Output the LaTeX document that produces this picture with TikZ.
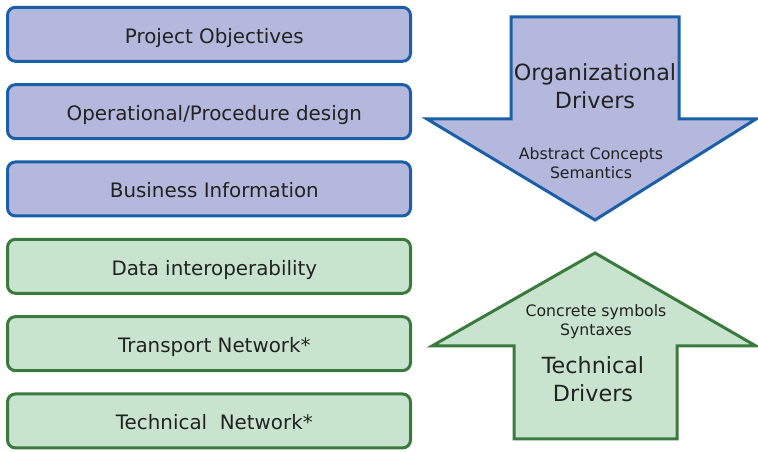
\documentclass[tikz,border=0pt]{standalone}
\usepackage{fontspec}
\setmainfont{DejaVu Sans}
\usetikzlibrary{positioning}
\definecolor{orgfill}{HTML}{B4B8DC}
\definecolor{orgline}{HTML}{1A5FA8}
\definecolor{techfill}{HTML}{C8E4CE}
\definecolor{techline}{HTML}{3A7A3C}
\definecolor{txt}{HTML}{222222}

\begin{document}
\begin{tikzpicture}[x=0.75pt,y=-0.75pt,
  layer/.style={rounded corners=6pt, line width=2.25pt, minimum width=302.25pt,
    minimum height=40.5pt, outer sep=0pt, text=txt, text height=14pt, text depth=0.5pt,
    font=\fontsize{14.9}{17}\selectfont},
  orglayer/.style={layer, draw=orgline, fill=orgfill},
  techlayer/.style={layer, draw=techline, fill=techfill},
  bigtext/.style={text=txt, align=center, font=\fontsize{16.7}{21}\selectfont},
  smalltext/.style={text=txt, align=center, font=\fontsize{11.8}{14.25}\selectfont},
  node distance=17.5pt]

\useasboundingbox (0,0) rectangle (758,452);

% layers
\node[orglayer] (obj) at (209,34.3) {\hspace*{8pt}Project Objectives};
\node[orglayer, below=of obj] (proc) {\hspace*{8pt}Operational/Procedure design};
\node[orglayer, below=of proc] (busi) {\hspace*{8pt}Business Information};
\node[techlayer, below=of busi] (data) {\hspace*{8pt}Data interoperability};
\node[techlayer, below=of data] (trans) {\hspace*{8pt}Transport Network*};
\node[techlayer, below=of trans] (tech) {\hspace*{8pt}Technical~~Network*};

% points def (down arrow)
\coordinate (D1) at (511,17);
\coordinate (D2) at (679,17);
\coordinate (D3) at (679,119);
\coordinate (D4) at (756,119);
\coordinate (Dtip) at (595,220);
\coordinate (D5) at (427,119);
\coordinate (D6) at (511,119);

% points def (up arrow)
\coordinate (U1) at (514,439);
\coordinate (U2) at (677,439);
\coordinate (U3) at (677,346);
\coordinate (U4) at (756,346);
\coordinate (Utip) at (595,253);
\coordinate (U5) at (432,346);
\coordinate (U6) at (514,346);

% arrows
\draw[line width=2.25pt, draw=orgline, fill=orgfill]
  (D1) -- (D2) -- (D3) -- (D4) -- (Dtip) -- (D5) -- (D6) -- cycle;
\draw[line width=2.25pt, draw=techline, fill=techfill]
  (U1) -- (U2) -- (U3) -- (U4) -- (Utip) -- (U5) -- (U6) -- cycle;

% labels
\node[bigtext] (orgdrv) at (595,86) {Organizational\\Drivers};
\node[smalltext] (abstr) at (591,163) {Abstract Concepts\\Semantics};
\node[smalltext] (concr) at (596,322) {Concrete symbols\\Syntaxes};
\node[bigtext] (techdrv) at (593,379) {Technical\\Drivers};
\end{tikzpicture}
\end{document}
